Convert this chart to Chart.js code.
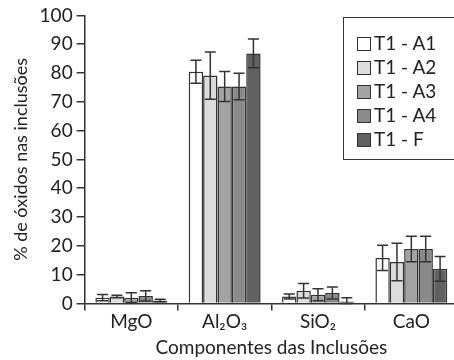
<!DOCTYPE html>
<html>
<head>
<meta charset="utf-8">
<script src="https://cdn.jsdelivr.net/npm/chart.js@4/dist/chart.umd.min.js"></script>
<style>
  html, body { margin: 0; padding: 0; background: #fff; overflow: hidden; }
  #wrap { position: relative; width: 458px; height: 360px; }
  #legend {
    position: absolute; left: 343px; top: 17px; width: 130px; height: 143px;
    border: 1.5px solid #333; box-sizing: border-box; padding: 15px 0 0 13px;
    font-family: Lato, "DejaVu Sans", sans-serif; font-size: 19px; color: #222;
  }
  #legend div { height: 24px; line-height: 20px; white-space: nowrap; }
  #legend span.sw {
    display: inline-block; width: 12px; height: 12px; border: 1.5px solid #333;
    vertical-align: -1px; margin-right: 3px;
  }
</style>
</head>
<body>
<div id="wrap">
  <canvas id="bars" width="458" height="360"></canvas>
  <div id="legend"></div>
</div>
<script>
const categories = ["MgO", "Al₂O₃", "SiO₂", "CaO"];
const seriesNames = ["T1 - A1", "T1 - A2", "T1 - A3", "T1 - A4", "T1 - F"];
const seriesColors = ["#ffffff", "#dcdcdc", "#a3a3a3", "#8a8a8a", "#616161"];

const a1 = [2.0, 80.4, 2.4, 15.8];
const a2 = [2.4, 79.1, 4.4, 14.4];
const a3 = [2.0, 75.3, 3.0, 18.9];
const a4 = [2.6, 75.3, 3.6, 18.9];
const f = [1.0, 86.8, 0.7, 12.0];

const a1Err = [1.1, 4.0, 0.9, 4.4];
const a2Err = [0.4, 8.2, 2.5, 6.5];
const a3Err = [1.7, 5.2, 2.1, 4.4];
const a4Err = [1.8, 4.6, 2.1, 4.4];
const fErr = [0.4, 5.0, 1.3, 4.3];

const yTicks = [0, 10, 20, 30, 40, 50, 60, 70, 80, 90, 100];

const values = [a1, a2, a3, a4, f];
const errors = [a1Err, a2Err, a3Err, a4Err, fErr];

const fontFamily = 'Lato, "DejaVu Sans", sans-serif';

// error bars drawn on top of bars
const errorBars = {
    id: 'errorBars',
    afterDatasetsDraw(chart) {
        const ctx = chart.ctx;
        const y = chart.scales.y;
        ctx.save();
        ctx.strokeStyle = '#333';
        ctx.lineWidth = 1.5;
        chart.data.datasets.forEach((ds, i) => {
            chart.getDatasetMeta(i).data.forEach((bar, j) => {
                const v = ds.data[j];
                const e = errors[i][j];
                const top = y.getPixelForValue(v + e);
                const bot = y.getPixelForValue(Math.max(0, v - e));
                const half = 5.5;
                ctx.beginPath();
                ctx.moveTo(bar.x, top); ctx.lineTo(bar.x, bot);
                ctx.moveTo(bar.x - half, top); ctx.lineTo(bar.x + half, top);
                ctx.moveTo(bar.x - half, bot); ctx.lineTo(bar.x + half, bot);
                ctx.stroke();
            });
        });
        ctx.restore();
    }
};

new Chart(document.getElementById('bars'), {
    type: 'bar',
    data: {
        labels: categories,
        datasets: seriesNames.map((name, i) => ({
            label: name,
            data: values[i],
            backgroundColor: seriesColors[i],
            borderColor: '#333',
            borderWidth: 1.5,
            categoryPercentage: 0.77,
            barPercentage: 1.0
        }))
    },
    options: {
        responsive: false,
        animation: false,
        layout: {padding: {top: 11, right: 0, left: 10, bottom: 1}},
        plugins: {
            legend: {display: false},
            tooltip: {enabled: false}
        },
        scales: {
            x: {
                grid: {display: true, drawOnChartArea: false, offset: true, tickLength: 7, color: '#333', lineWidth: 1.5},
                border: {color: '#333', width: 1.5},
                ticks: {color: '#222', font: {family: fontFamily, size: 19}, padding: 0},
                title: {display: true, text: 'Componentes das Inclusões', color: '#222',
                        font: {family: fontFamily, size: 19}, padding: {top: 3, bottom: 0}}
            },
            y: {
                min: 0, max: 100,
                afterBuildTicks: (axis) => { axis.ticks = yTicks.map(v => ({value: v})); },
                grid: {display: true, drawOnChartArea: false, tickLength: 8, color: '#333', lineWidth: 1.5},
                border: {color: '#333', width: 1.5},
                ticks: {color: '#222', font: {family: fontFamily, size: 19}, padding: 4},
                title: {display: true, text: '% de óxidos nas inclusões', color: '#222',
                        font: {family: fontFamily, size: 18}, padding: {top: 0, bottom: 4}}
            }
        }
    },
    plugins: [errorBars]
});

const legend = document.getElementById('legend');
seriesNames.forEach((name, i) => {
    const row = document.createElement('div');
    row.innerHTML = '<span class="sw" style="background:' + seriesColors[i] + '"></span>' + name;
    legend.appendChild(row);
});
</script>
</body>
</html>
